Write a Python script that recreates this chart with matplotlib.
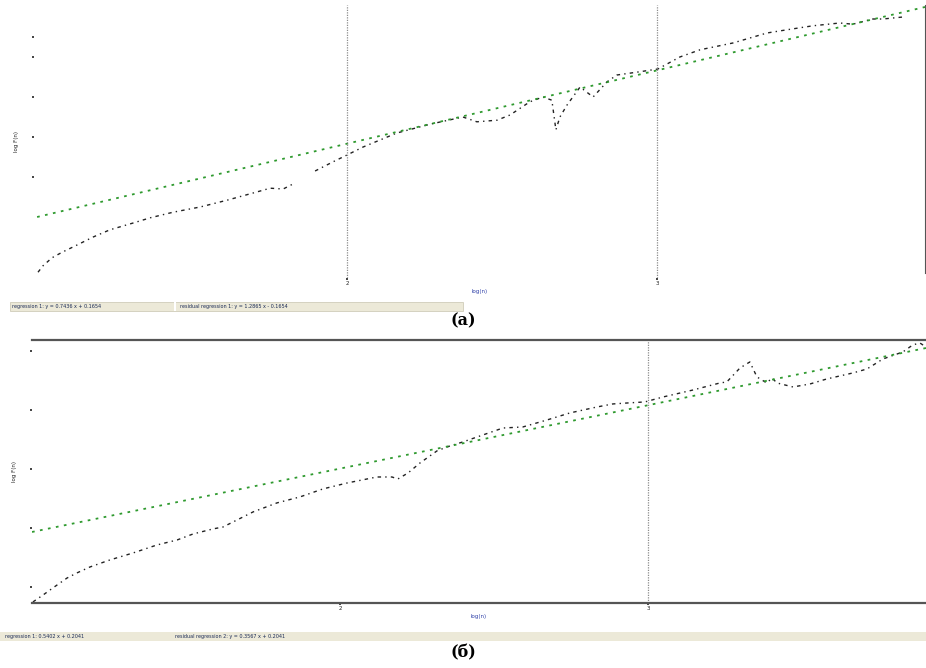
import matplotlib.pyplot as plt
from matplotlib.patches import Rectangle

# panel (a): fluctuation function, log-log (None = gap in the curve)
xa = [1.003, 1.019, 1.048, 1.081, 1.129, 1.181, 1.235, 1.310, 1.365, 1.439,
      1.526, 1.613, 1.697, 1.752, 1.794, 1.832, 1.865, 1.897, 1.955, 2.000, 2.052,
      2.161, 2.268, 2.374, 2.419, 2.484, 2.526, 2.590, 2.632, 2.661, 2.674,
      2.687, 2.710, 2.752, 2.794, 2.839, 2.871, 2.935, 3.003, 3.074, 3.139,
      3.245, 3.355, 3.419, 3.503, 3.590, 3.632, 3.697, 3.729, 3.794]
ya = [-0.69, -0.61, -0.51, -0.44, -0.35, -0.25, -0.16, -0.075, -0.01, 0.06,
      0.125, 0.21, 0.30, 0.36, 0.35, 0.425, None, 0.575, 0.69, 0.775, 0.875,
      1.05, 1.16, 1.25, 1.19, 1.21, 1.275, 1.44, 1.50, 1.46, 1.09,
      1.25, 1.40, 1.625, 1.50, 1.69, 1.775, 1.81, 1.85, 2.0, 2.09,
      2.175, 2.30, 2.34, 2.39, 2.425, 2.41, 2.475, 2.475, 2.50]
fit_xa = [1.0, 3.865]
fit_ya = [0.0, 2.625]
vlines_a = [2, 3]

# panel (б)
xb = [1.003, 1.036, 1.068, 1.114, 1.146, 1.188, 1.253, 1.328, 1.406, 1.471,
      1.523, 1.588, 1.620, 1.653, 1.718, 1.795, 1.870, 1.945, 2.023, 2.120,
      2.169, 2.188, 2.221, 2.260, 2.315, 2.347, 2.399, 2.464, 2.529, 2.594,
      2.672, 2.747, 2.834, 2.886, 2.932, 2.990, 3.049, 3.146, 3.234, 3.256,
      3.299, 3.331, 3.354, 3.386, 3.403, 3.419, 3.471, 3.526, 3.581, 3.666,
      3.711, 3.763, 3.828, 3.860, 3.883, 3.903]
yb = [0.373, 0.432, 0.492, 0.576, 0.619, 0.669, 0.729, 0.788, 0.856, 0.898,
      0.949, 0.992, 1.008, 1.051, 1.136, 1.212, 1.263, 1.331, 1.381, 1.432,
      1.432, 1.415, 1.466, 1.551, 1.653, 1.686, 1.729, 1.788, 1.847, 1.856,
      1.915, 1.975, 2.025, 2.051, 2.059, 2.068, 2.110, 2.169, 2.229, 2.237,
      2.356, 2.407, 2.280, 2.229, 2.271, 2.229, 2.195, 2.220, 2.263, 2.314,
      2.347, 2.432, 2.492, 2.551, 2.568, 2.534]
fit_xb = [1.0, 3.903]
fit_yb = [0.966, 2.525]
vlines_b = [3]

status_a = ["regression 1: y = 0.7436 x + 0.1654", "residual regression 1: y = 1.2865 x - 0.1654"]
status_b = ["regression 1: 0.5402 x + 0.2041", "residual regression 2: y = 0.3567 x + 0.2041"]

black_ls = (0, (2.5, 3, 1, 3))
green_ls = (0, (1.5, 3))
green = '#2f9a2f'

fig = plt.figure(figsize=(9.26, 6.68), dpi=100)

# ---- (a)
ax1 = fig.add_axes([34/926, 1-278/668, 891/926, 273/668])
ax1.plot(xa, [float('nan') if v is None else v for v in ya],
         color='#222222', lw=1.0, ls=black_ls)
ax1.plot(fit_xa, fit_ya, color=green, lw=1.3, ls=green_ls)
for v in vlines_a:
    ax1.axvline(v, ymin=0, ymax=1, color='#8c8c8c', lw=0.9, ls=(0, (1, 1)))
ax1.set_xlim(0.990, 3.865)
ax1.set_ylim(-0.7625, 2.65)
for s in ['left', 'top', 'bottom']:
    ax1.spines[s].set_visible(False)
ax1.spines['right'].set_color('#555555')
ax1.spines['right'].set_bounds(-0.7, 2.65)
ax1.set_xticks([2, 3])
ax1.set_xticklabels(['2', '3'])
ax1.set_yticks([0.5, 1.0, 1.5, 2.0, 2.25])
ax1.set_yticklabels([])
ax1.tick_params(axis='both', length=1.5, width=1.2, labelsize=4, pad=1, colors='#222222')
ax1.set_xlabel('log(n)', fontsize=4, color='#3344aa', labelpad=2)
ax1.set_ylabel('log F(n)', fontsize=4, color='#222222', labelpad=8)

# ---- (б)
ax2 = fig.add_axes([32/926, 1-603/668, 894/926, 263/668])
ax2.plot(xb, yb, color='#222222', lw=1.0, ls=black_ls)
ax2.plot(fit_xb, fit_yb, color=green, lw=1.3, ls=green_ls)
for v in vlines_b:
    ax2.axvline(v, color='#8c8c8c', lw=0.9, ls=(0, (1, 1)))
ax2.set_xlim(1.0, 3.903)
ax2.set_ylim(0.364, 2.593)
ax2.spines['left'].set_visible(False)
ax2.spines['right'].set_visible(False)
for s in ['top', 'bottom']:
    ax2.spines[s].set_color('#555555')
    ax2.spines[s].set_linewidth(1.6)
ax2.set_xticks([2, 3])
ax2.set_xticklabels(['2', '3'])
ax2.set_yticks([0.5, 1.0, 1.5, 2.0, 2.5])
ax2.set_yticklabels([])
ax2.tick_params(axis='both', length=1.5, width=1.2, labelsize=4, pad=1, colors='#222222')
ax2.set_xlabel('log(n)', fontsize=4, color='#3344aa', labelpad=2)
ax2.set_ylabel('log F(n)', fontsize=4, color='#222222', labelpad=8)

# status bars
W, H = 926, 668
bar_col = '#ece9d8'
fig.add_artist(Rectangle((10/W, 1-311/H), 453/W, 9/H, transform=fig.transFigure,
                         facecolor=bar_col, edgecolor='#c8c4b0', lw=0.5))
fig.add_artist(Rectangle((174/W, 1-311/H), 2/W, 9/H, transform=fig.transFigure,
                         facecolor='white', edgecolor='none'))
fig.text(12/W, 1-306.5/H, status_a[0], fontsize=3.5, color='#1a2a55', va='center')
fig.text(180/W, 1-306.5/H, status_a[1], fontsize=3.5, color='#1a2a55', va='center')

fig.add_artist(Rectangle((0, 1-641/H), 1, 9/H, transform=fig.transFigure,
                         facecolor=bar_col, edgecolor='none'))
fig.text(5/W, 1-636.5/H, status_b[0], fontsize=3.5, color='#1a2a55', va='center')
fig.text(175/W, 1-636.5/H, status_b[1], fontsize=3.5, color='#1a2a55', va='center')

fig.text(0.5, 1-321/H, '(a)', ha='center', va='center', fontsize=11.5,
         fontweight='bold', family='DejaVu Serif')
fig.text(0.5, 1-653/H, '(б)', ha='center', va='center', fontsize=11.5,
         fontweight='bold', family='DejaVu Serif')

fig.savefig('out.png', dpi=100)
